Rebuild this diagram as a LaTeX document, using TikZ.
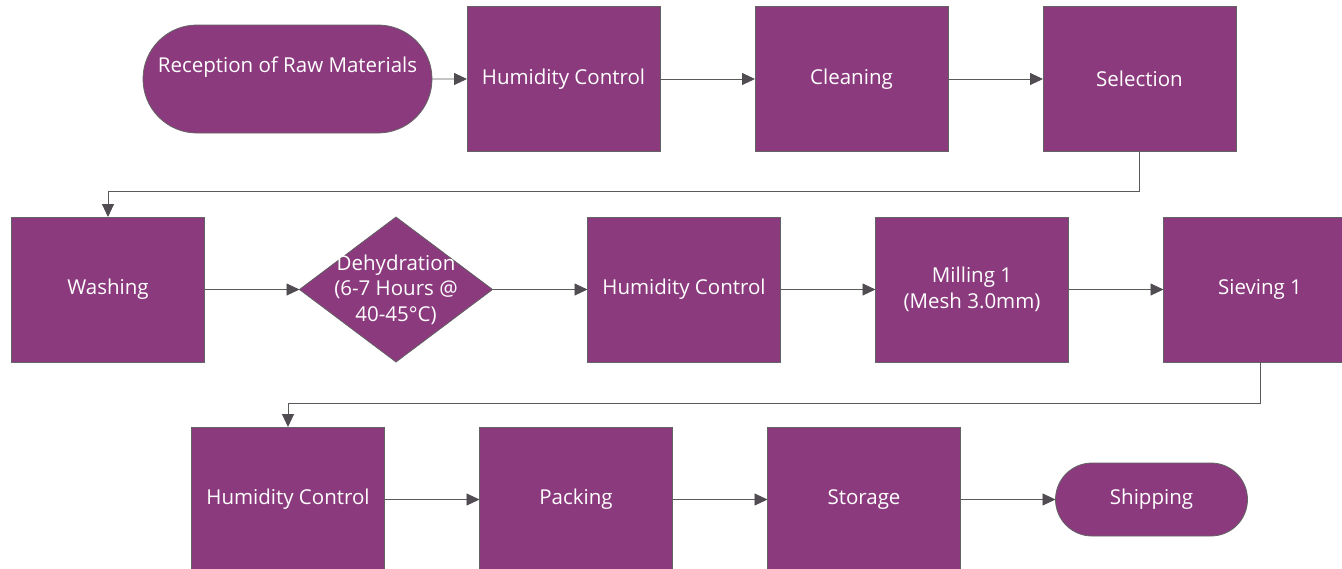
\documentclass[tikz,border=0pt]{standalone}
\usepackage{fontspec}
\setmainfont{Open Sans}
\usetikzlibrary{positioning, shapes.geometric, shapes.misc, arrows.meta}
\definecolor{plum}{HTML}{8B3A7E}
\definecolor{edgegray}{HTML}{646464}
\definecolor{linegray}{HTML}{5A5A5A}
\definecolor{tipgray}{HTML}{504C52}

\tikzset{
  stepbox/.style={rectangle, draw=edgegray, fill=plum, line width=0.8pt,
    minimum width=193pt, minimum height=145pt, inner sep=0pt, outer sep=0pt,
    text=white, align=center, font=\fontsize{20.5}{25.5}\selectfont},
  capsule/.style={rounded rectangle, draw=edgegray, fill=plum, line width=0.8pt,
    inner sep=0pt, outer sep=0pt, text=white, font=\fontsize{20.5}{25.5}\selectfont},
  decision/.style={diamond, draw=edgegray, fill=plum, line width=0.8pt,
    minimum width=193pt, minimum height=145pt, inner sep=0pt, outer sep=0pt},
  label text/.style={text=white, align=center, inner sep=0pt,
    font=\fontsize{20.5}{25.5}\selectfont},
  flow/.style={draw=linegray, line width=0.9pt,
    -{Triangle[length=13pt, width=12pt, fill=tipgray, color=tipgray]}},
}

\begin{document}
\begin{tikzpicture}[x=1pt, y=-1pt, node distance=95pt]
    \useasboundingbox (0,0) rectangle (1342,568);
    % first row
    \node[capsule, minimum width=289pt, minimum height=108pt] (recep) at (287.5,79) {};
    \node[label text] (receptxt) at ([yshift=12pt]recep.center) {Reception of Raw Materials};
    \node[stepbox, right=35pt of recep] (hum1) {Humidity Control};
    \node[stepbox, right=of hum1] (clean) {Cleaning};
    \node[stepbox, right=of clean] (select) {Selection};
    \draw[flow] (recep) -- (hum1);
    \draw[flow] (hum1) -- (clean);
    \draw[flow] (clean) -- (select);
    % second row
    \node[stepbox] (wash) at (108,289.5) {Washing};
    \node[decision, right=of wash] (dehyd) {};
    \node[label text] (dehydtxt) at (dehyd.center) {Dehydration\\(6-7 Hours @\\40-45°C)};
    \node[stepbox, right=of dehyd] (hum2) {Humidity Control};
    \node[stepbox, right=of hum2] (mill) {Milling 1\\(Mesh 3.0mm)};
    \node[stepbox, right=of mill] (sieve) {Sieving 1};
    \draw[flow] (select.south) -- ++(0,40) -| (wash.north);
    \draw[flow] (wash) -- (dehyd);
    \draw[flow] (dehyd) -- (hum2);
    \draw[flow] (hum2) -- (mill);
    \draw[flow] (mill) -- (sieve);
    % third row
    \node[stepbox] (hum3) at (288,499.5) {Humidity Control};
    \node[stepbox, right=of hum3] (pack) {Packing};
    \node[stepbox, right=of pack] (store) {Storage};
    \node[capsule, minimum width=192pt, minimum height=73pt, right=of store] (ship) {Shipping};
    \draw[flow] (sieve.south) -- ++(0,41) -| (hum3.north);
    \draw[flow] (hum3) -- (pack);
    \draw[flow] (pack) -- (store);
    \draw[flow] (store) -- (ship);
\end{tikzpicture}
\end{document}
